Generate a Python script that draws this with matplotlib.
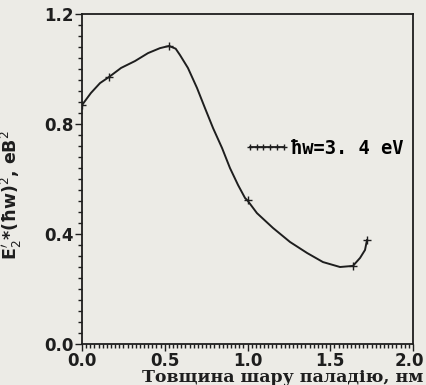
import matplotlib
matplotlib.use("Agg")
import matplotlib.pyplot as plt
from matplotlib.ticker import MultipleLocator

# traced line of the curve
curve_x = [0.0, 0.054, 0.109, 0.163, 0.236, 0.320, 0.399, 0.471, 0.526, 0.566, 0.592,
           0.640, 0.695, 0.743, 0.792, 0.846, 0.894, 0.943, 0.985, 1.0, 1.057, 1.154,
           1.257, 1.360, 1.456, 1.559, 1.637, 1.680, 1.710, 1.722]
curve_y = [0.869, 0.913, 0.949, 0.971, 1.004, 1.029, 1.058, 1.076, 1.084, 1.074, 1.051,
           1.004, 0.931, 0.858, 0.785, 0.713, 0.640, 0.578, 0.531, 0.522, 0.476, 0.422,
           0.371, 0.331, 0.298, 0.280, 0.284, 0.313, 0.342, 0.378]

# measured points (+ markers)
pts_x = [0.0, 0.163, 0.526, 1.0, 1.637, 1.722]
pts_y = [0.869, 0.971, 1.084, 0.522, 0.284, 0.378]

legend_label = "ħw=3. 4 eV"
xlabel = "Товщина шару паладію, нм"
ylabel = "E$_2^{\\prime}$*(ħw)$^2$, еВ$^2$"
xmax = 2.0

bg = "#ecebe6"
ink = "#1e1e1e"

fig = plt.figure(figsize=(4.26, 3.85), dpi=100, facecolor=bg)
ax = fig.add_axes([0.1925, 0.1065, 0.777, 0.857], facecolor=bg)

ax.plot(curve_x, curve_y, color=ink, lw=1.4, solid_joinstyle="round")
ax.plot(pts_x, pts_y, ls="none", marker="+", ms=6, mew=1.0, color=ink)

h, = ax.plot([], [], color=ink, lw=1.3, marker="+", ms=5, mew=1.0)
ax.legend([h], [legend_label], loc="center left", bbox_to_anchor=(0.49, 0.594),
          frameon=False, numpoints=6, handlelength=2.4, handletextpad=0.12,
          borderpad=0, borderaxespad=0,
          prop={"family": "DejaVu Sans Mono", "weight": "bold", "size": 13.5})

ax.set_xlim(0, xmax)
ax.set_ylim(0, 1.2)
ax.xaxis.set_major_locator(MultipleLocator(0.5))
ax.xaxis.set_minor_locator(MultipleLocator(0.025))
ax.yaxis.set_major_locator(MultipleLocator(0.4))
ax.yaxis.set_minor_locator(MultipleLocator(0.04))
# last x label is drawn by hand so it stays inside the picture
ax.xaxis.set_major_formatter(lambda v, p: "" if v >= xmax - 1e-9 else f"{v:.1f}")
ax.yaxis.set_major_formatter(lambda v, p: f"{v:.1f}")
ax.annotate(f"{xmax:.1f}", xy=(xmax, 0), xycoords=("data", "axes fraction"),
            xytext=(11, -8), textcoords="offset pixels", ha="right", va="top",
            fontsize=12, fontweight="bold", color=ink)

ax.tick_params(which="both", direction="out", color=ink, width=1.0)
ax.tick_params(which="major", length=5, pad=1, labelsize=12, labelcolor=ink)
ax.tick_params(which="minor", length=3)
for lab in ax.get_xticklabels() + ax.get_yticklabels():
    lab.set_fontweight("bold")
for s in ax.spines.values():
    s.set_color(ink)
    s.set_linewidth(1.3)

ax.set_xlabel(xlabel, family="DejaVu Serif", weight="bold", fontsize=12.5,
              color=ink, ha="right")
ax.xaxis.set_label_coords(1.03, -0.075)
ax.set_ylabel(ylabel, fontsize=12.5, color=ink, weight="bold")
ax.yaxis.set_label_coords(-0.175, 0.45)

fig.savefig("out.png", dpi=100, facecolor=bg)
